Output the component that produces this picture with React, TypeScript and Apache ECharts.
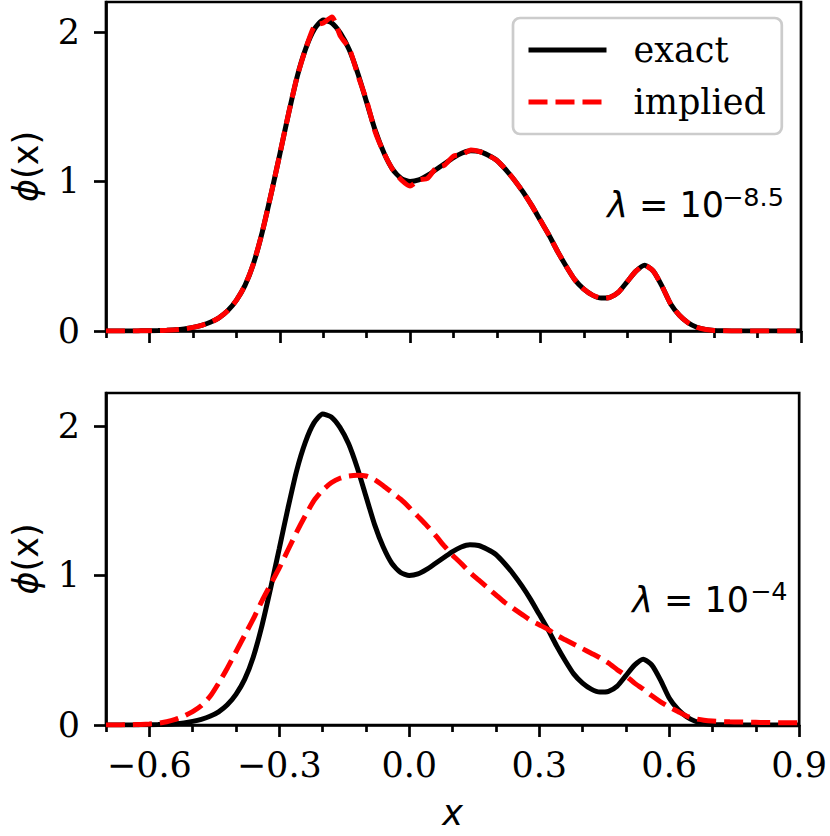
import React, { useEffect, useRef } from "react";
import * as echarts from "echarts";

const xs = [
  -0.70, -0.68, -0.66, -0.64, -0.62, -0.60, -0.58, -0.56, -0.54, -0.52,
  -0.50, -0.48, -0.46, -0.44, -0.42, -0.40, -0.38, -0.36, -0.34, -0.32,
  -0.30, -0.28, -0.26, -0.24, -0.22, -0.20, -0.18, -0.16, -0.14, -0.12,
  -0.10, -0.08, -0.06, -0.04, -0.02, 0.00, 0.02, 0.04, 0.06, 0.08,
  0.10, 0.12, 0.14, 0.16, 0.18, 0.20, 0.22, 0.24, 0.26, 0.28,
  0.30, 0.32, 0.34, 0.36, 0.38, 0.40, 0.42, 0.44, 0.46, 0.48,
  0.50, 0.52, 0.54, 0.56, 0.58, 0.60, 0.62, 0.64, 0.66, 0.68,
  0.70, 0.72, 0.74, 0.76, 0.78, 0.80, 0.82, 0.84, 0.86, 0.88,
  0.90,
];

const exact = [
  0, 0, 0, 0, 0.001, 0.002, 0.003, 0.005, 0.008, 0.014,
  0.024, 0.038, 0.058, 0.088, 0.135, 0.205, 0.305, 0.455, 0.665, 0.915,
  1.18, 1.45, 1.70, 1.89, 2.02, 2.08, 2.06, 1.99, 1.88, 1.72,
  1.53, 1.34, 1.19, 1.08, 1.02, 1.00, 1.01, 1.04, 1.08, 1.12,
  1.16, 1.19, 1.205, 1.20, 1.175, 1.14, 1.08, 1.01, 0.93, 0.84,
  0.74, 0.64, 0.53, 0.43, 0.34, 0.28, 0.24, 0.22, 0.225, 0.26,
  0.33, 0.40, 0.44, 0.40, 0.30, 0.18, 0.105, 0.055, 0.025, 0.01,
  0.003, 0.001, 0, 0, 0, 0, 0, 0, 0, 0,
  0,
];

const impliedTop = [
  0, 0, 0, 0, 0.001, 0.002, 0.003, 0.005, 0.008, 0.014,
  0.024, 0.038, 0.058, 0.088, 0.135, 0.205, 0.305, 0.455, 0.665, 0.915,
  1.18, 1.45, 1.70, 1.89, 2.04, 2.06, 2.10, 1.97, 1.89, 1.71,
  1.54, 1.33, 1.19, 1.08, 1.01, 0.97, 1.01, 1.02, 1.09, 1.11,
  1.17, 1.18, 1.21, 1.20, 1.175, 1.14, 1.08, 1.01, 0.93, 0.84,
  0.74, 0.64, 0.53, 0.43, 0.34, 0.28, 0.24, 0.22, 0.225, 0.26,
  0.33, 0.40, 0.44, 0.40, 0.30, 0.18, 0.105, 0.055, 0.025, 0.01,
  0.003, 0.001, 0, 0, 0, 0, 0, 0, 0, 0,
  0,
];

const impliedBottom = [
  0, 0, 0.001, 0.002, 0.004, 0.007, 0.012, 0.022, 0.038, 0.06,
  0.09, 0.13, 0.19, 0.28, 0.38, 0.49, 0.60, 0.71, 0.83, 0.94,
  1.05, 1.17, 1.29, 1.40, 1.50, 1.57, 1.62, 1.65, 1.665, 1.67,
  1.665, 1.64, 1.60, 1.555, 1.51, 1.455, 1.395, 1.335, 1.27, 1.20,
  1.135, 1.08, 1.02, 0.97, 0.92, 0.87, 0.82, 0.78, 0.74, 0.70,
  0.67, 0.64, 0.60, 0.57, 0.54, 0.51, 0.48, 0.45, 0.415, 0.37,
  0.33, 0.28, 0.24, 0.195, 0.155, 0.12, 0.09, 0.06, 0.042, 0.032,
  0.026, 0.023, 0.021, 0.02, 0.019, 0.018, 0.017, 0.016, 0.015, 0.015,
  0.014,
];

const xMajorTicks = [-0.6, -0.3, 0, 0.3, 0.6, 0.9];
const xMinorTicks = [-0.7, -0.5, -0.4, -0.2, -0.1, 0.1, 0.2, 0.4, 0.5, 0.7, 0.8];
const yTicks = [0, 1, 2];
const seriesNames = ["exact", "implied"];
const lambdaTop = ["λ", " = 10", "−8.5"];
const lambdaBottom = ["λ", " = 10", "−4"];

const pairs = (ys: number[]) => xs.map((x, i) => [x, ys[i]]);

const fmtX = (v: number) => {
  const s = Math.abs(v).toFixed(1);
  return v < -1e-9 ? "\u2212" + s : s;
};

const AX = "#000";
const AW = 2.7;
const TICK_FONT = { fontFamily: "DejaVu Serif", fontSize: 35, color: "#000" };

function xAxes(gridIndex: number, withLabels: boolean) {
  const main: any = {
    type: "value",
    gridIndex,
    position: "bottom",
    min: -0.7,
    max: 0.9,
    axisLine: { show: true, onZero: false, lineStyle: { color: AX, width: AW } },
    axisTick: { show: true, customValues: xMajorTicks, length: 12, lineStyle: { color: AX, width: AW } },
    axisLabel: withLabels
      ? { show: true, customValues: xMajorTicks, formatter: fmtX, margin: 22, ...TICK_FONT }
      : { show: false },
    splitLine: { show: false },
  };
  if (withLabels) {
    main.name = "x";
    main.nameLocation = "middle";
    main.nameGap = 70;
    main.nameTextStyle = { fontFamily: "DejaVu Sans", fontStyle: "italic", fontSize: 35, color: "#000" };
  }
  const minor: any = {
    type: "value",
    gridIndex,
    position: "bottom",
    min: -0.7,
    max: 0.9,
    axisLine: { show: false, onZero: false },
    axisTick: { show: true, customValues: xMinorTicks, length: 7, lineStyle: { color: AX, width: AW } },
    axisLabel: { show: false },
    splitLine: { show: false },
  };
  return [main, minor];
}

function yAxis(gridIndex: number, max: number) {
  return {
    type: "value",
    gridIndex,
    min: 0,
    max,
    axisLine: { show: true, onZero: false, lineStyle: { color: AX, width: AW } },
    axisTick: { show: true, customValues: yTicks, length: 12, lineStyle: { color: AX, width: AW } },
    axisLabel: { show: true, customValues: yTicks, formatter: (v: number) => String(v), margin: 26, ...TICK_FONT },
    splitLine: { show: false },
    name: "{i|ϕ}{n|(x)}",
    nameLocation: "middle",
    nameGap: 63,
    nameRotate: 90,
    nameTextStyle: {
      color: "#000",
      rich: {
        i: { fontFamily: "DejaVu Sans", fontStyle: "italic", fontSize: 35, color: "#000" },
        n: { fontFamily: "DejaVu Sans", fontSize: 35, color: "#000" },
      },
    },
  };
}

function lineSeries(name: string, data: number[][], idx: number, dashed: boolean) {
  return {
    type: "line",
    name,
    xAxisIndex: idx * 2,
    yAxisIndex: idx,
    data,
    showSymbol: false,
    symbol: "none",
    smooth: 0.2,
    lineStyle: {
      color: dashed ? "#ff0000" : "#000000",
      width: 5,
      type: dashed ? [19, 8] : "solid",
    },
    itemStyle: { color: dashed ? "#ff0000" : "#000000" },
    z: dashed ? 3 : 2,
  };
}

function lambdaText(parts: string[], xEnd: number, yMain: number, xSup: number, ySup: number) {
  return [
    {
      type: "text",
      x: xEnd,
      y: yMain,
      style: {
        text: `{i|${parts[0]}}{n|${parts[1]}}`,
        align: "right",
        verticalAlign: "middle",
        textAlign: "right",
        textVerticalAlign: "middle",
        rich: {
          i: { fontFamily: "DejaVu Sans", fontStyle: "italic", fontSize: 35, fill: "#000" },
          n: { fontFamily: "DejaVu Sans", fontSize: 35, fill: "#000" },
        },
      },
    },
    {
      type: "text",
      x: xSup,
      y: ySup,
      style: {
        text: parts[2],
        font: "25.5px DejaVu Sans",
        fill: "#000",
        align: "left",
        verticalAlign: "middle",
        textAlign: "left",
        textVerticalAlign: "middle",
      },
    },
  ];
}

export default function App() {
  const ref = useRef<HTMLDivElement>(null);
  useEffect(() => {
    if (!ref.current) return;
    const chart = echarts.init(ref.current, undefined, { renderer: "svg" });
    const option: any = {
      animation: false,
      backgroundColor: "#ffffff",
      grid: [
        { left: 103, top: 2, width: 698, height: 329, show: true, borderColor: AX, borderWidth: AW, backgroundColor: "transparent" },
        { left: 103, top: 393, width: 698, height: 332, show: true, borderColor: AX, borderWidth: AW, backgroundColor: "transparent" },
      ],
      xAxis: [...xAxes(0, false), ...xAxes(1, true)],
      yAxis: [yAxis(0, 2.2), yAxis(1, 2.22)],
      legend: {
        data: seriesNames,
        orient: "vertical",
        left: 513,
        top: 18,
        padding: [12, 16, 12, 13],
        itemWidth: 78,
        itemHeight: 20,
        itemGap: 12,
        backgroundColor: "rgba(255,255,255,0.8)",
        borderColor: "#cccccc",
        borderWidth: 2.7,
        borderRadius: 7,
        itemStyle: { opacity: 0, borderWidth: 0 },
        lineStyle: { width: 5 },
        textStyle: { fontFamily: "DejaVu Serif", fontSize: 35, color: "#000", lineHeight: 40, padding: [0, 0, 0, 22] },
        selectedMode: false,
      },
      series: [
        lineSeries(seriesNames[0], pairs(exact), 0, false),
        lineSeries(seriesNames[1], pairs(impliedTop), 0, true),
        lineSeries(seriesNames[0], pairs(exact), 1, false),
        lineSeries(seriesNames[1], pairs(impliedBottom), 1, true),
      ],
      graphic: [
        ...lambdaText(lambdaTop, 724, 205, 722, 197),
        ...lambdaText(lambdaBottom, 749, 600, 750, 591),
      ],
    };
    chart.setOption(option);
    return () => chart.dispose();
  }, []);
  return <div ref={ref} style={{ position: "absolute", left: 0, top: 0, width: 830, height: 836 }} />;
}
